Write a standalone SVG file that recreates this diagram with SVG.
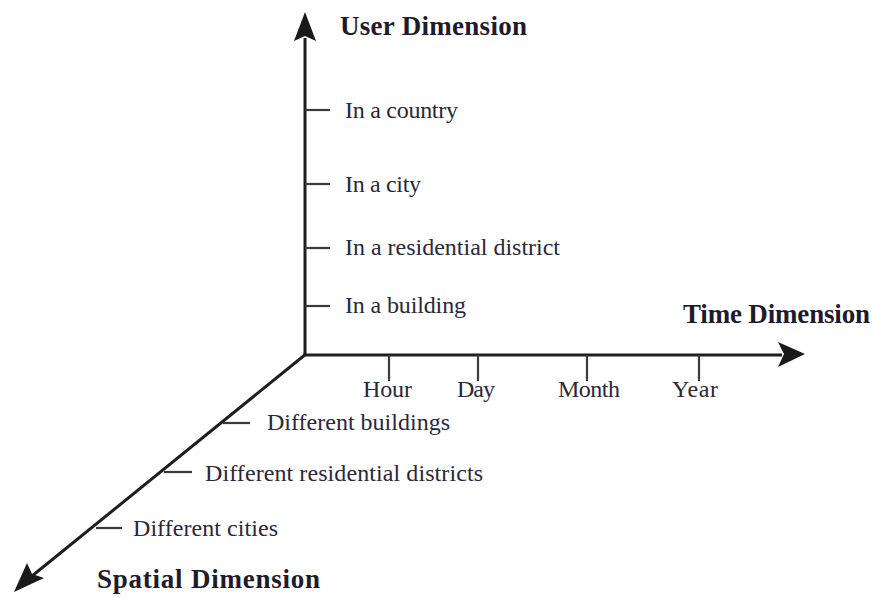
<svg xmlns="http://www.w3.org/2000/svg" width="872" height="598" viewBox="0 0 872 598">
<style>
.axis{stroke:#1e1e1e;stroke-width:3;fill:none}
.tick{stroke:#3a3a3a;stroke-width:2.2;fill:none}
.lbl{font-family:"Liberation Serif","Times New Roman",serif;font-size:24px;fill:#2b2838}
.ttl{font-family:"Liberation Serif","Times New Roman",serif;font-size:27px;font-weight:bold;fill:#1f1b2c}
</style>
<rect width="872" height="598" fill="#ffffff"/>
<g id="connectors">
<line class="axis" x1="305" y1="356" x2="305" y2="38"/>
<path d="M305,12 L294,41 L305,36 L316,41 Z" fill="#1a1a1a"/>
<line class="axis" x1="303" y1="355" x2="782" y2="355"/>
<path d="M805,354 L778,342 L784,354 L778,367 Z" fill="#1a1a1a"/>
<line class="axis" x1="306" y1="354" x2="32" y2="576"/>
<path d="M14,592 L27,563 L32,574 L44,578 Z" fill="#1a1a1a"/>
</g>
<g id="user-axis">
<text class="ttl" x="340" y="35" textLength="187">User Dimension</text>
<g id="u-country"><line class="tick" x1="305" y1="110" x2="330" y2="110"/><text class="lbl" x="345" y="118" textLength="113">In a country</text></g>
<g id="u-city"><line class="tick" x1="305" y1="184" x2="330" y2="184"/><text class="lbl" x="345" y="192" textLength="76">In a city</text></g>
<g id="u-district"><line class="tick" x1="305" y1="248" x2="330" y2="248"/><text class="lbl" x="345" y="255" textLength="215">In a residential district</text></g>
<g id="u-building"><line class="tick" x1="305" y1="306" x2="330" y2="306"/><text class="lbl" x="345" y="313" textLength="121">In a building</text></g>
</g>
<g id="time-axis">
<text class="ttl" x="683" y="323" textLength="187">Time Dimension</text>
<g id="t-hour"><line class="tick" x1="389" y1="355" x2="389" y2="381"/><text class="lbl" x="363" y="397" textLength="49">Hour</text></g>
<g id="t-day"><line class="tick" x1="478" y1="355" x2="478" y2="381"/><text class="lbl" x="457" y="397" textLength="38">Day</text></g>
<g id="t-month"><line class="tick" x1="587" y1="355" x2="587" y2="381"/><text class="lbl" x="558" y="397" textLength="62">Month</text></g>
<g id="t-year"><line class="tick" x1="699" y1="355" x2="699" y2="381"/><text class="lbl" x="672" y="397" textLength="46">Year</text></g>
</g>
<g id="spatial-axis">
<text class="ttl" x="97" y="588" textLength="223">Spatial Dimension</text>
<g id="s-buildings"><line class="tick" x1="223" y1="423" x2="250" y2="423"/><text class="lbl" x="267" y="430" textLength="183">Different buildings</text></g>
<g id="s-districts"><line class="tick" x1="164" y1="472" x2="192" y2="472"/><text class="lbl" x="205" y="481" textLength="278">Different residential districts</text></g>
<g id="s-cities"><line class="tick" x1="96" y1="528" x2="122" y2="528"/><text class="lbl" x="133" y="536" textLength="145">Different cities</text></g>
</g>
</svg>
